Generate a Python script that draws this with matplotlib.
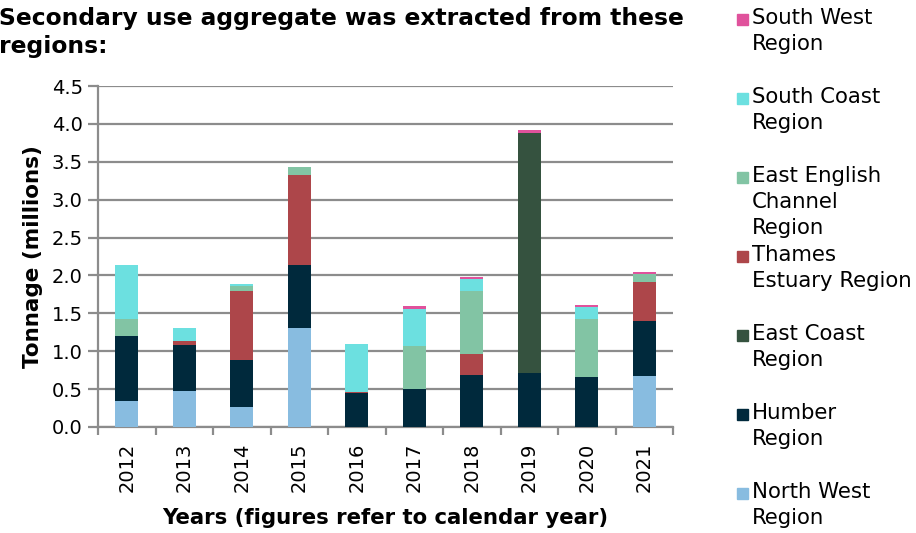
import matplotlib
matplotlib.use("Agg")
import matplotlib.pyplot as plt
import numpy as np
from matplotlib.patches import Rectangle

years = ["2012", "2013", "2014", "2015", "2016", "2017", "2018", "2019", "2020", "2021"]
north_west = [0.34, 0.48, 0.26, 1.31, 0.0, 0.0, 0.0, 0.0, 0.0, 0.67]
humber = [0.86, 0.60, 0.62, 0.83, 0.45, 0.50, 0.69, 0.71, 0.66, 0.73]
east_coast = [0.0, 0.0, 0.0, 0.0, 0.0, 0.0, 0.0, 3.17, 0.0, 0.0]
thames = [0.0, 0.05, 0.91, 1.18, 0.01, 0.0, 0.27, 0.0, 0.0, 0.515]
east_english = [0.22, 0.0, 0.07, 0.11, 0.0, 0.57, 0.83, 0.0, 0.77, 0.11]
south_coast = [0.72, 0.17, 0.03, 0.0, 0.64, 0.49, 0.16, 0.0, 0.15, 0.0]
south_west = [0.0, 0.0, 0.0, 0.0, 0.0, 0.04, 0.03, 0.035, 0.035, 0.025]

series = [
    ("North West\nRegion", north_west, "#88BCE0"),
    ("Humber\nRegion", humber, "#00293C"),
    ("East Coast\nRegion", east_coast, "#35523F"),
    ("Thames\nEstuary Region", thames, "#AD464A"),
    ("East English\nChannel\nRegion", east_english, "#82C4A4"),
    ("South Coast\nRegion", south_coast, "#6CE0E0"),
    ("South West\nRegion", south_west, "#E0529C"),
]

W, H = 916, 533
fig = plt.figure(figsize=(W / 100, H / 100), dpi=100)
ax = fig.add_axes([98 / W, 1 - 427 / H, (673 - 98) / W, (427 - 86) / H])

x = np.arange(len(years))
bottom = np.zeros(len(years))
for name, vals, col in series:
    v = np.array(vals)
    ax.bar(x, v, bottom=bottom, width=0.4, color=col, edgecolor="none", zorder=3)
    bottom += v

ax.set_xlim(-0.5, len(years) - 0.5)
ax.set_ylim(0, 4.5)
ax.set_yticks(np.arange(0, 4.51, 0.5))
ax.set_yticklabels([f"{t:.1f}" for t in np.arange(0, 4.51, 0.5)], fontsize=14)
ax.yaxis.grid(True, color="#8C8C8C", linewidth=1.6, zorder=0)
ax.set_axisbelow(True)
ax.set_xticks(x)
ax.set_xticklabels(years, rotation=90, fontsize=14)
ax.set_xticks(np.arange(-0.5, len(years), 1), minor=True)
ax.tick_params(axis="x", which="major", length=0, pad=11)
ax.tick_params(axis="x", which="minor", length=6, width=1.6, color="#8C8C8C")
ax.tick_params(axis="y", length=7, width=1.6, color="#8C8C8C", pad=4)
for s in ["top", "right"]:
    ax.spines[s].set_visible(False)
for s in ["left", "bottom"]:
    ax.spines[s].set_color("#8C8C8C")
    ax.spines[s].set_linewidth(1.6)

ax.set_ylabel("Tonnage (millions)", fontsize=15.5, fontweight="bold", labelpad=6)
ax.set_xlabel("Years (figures refer to calendar year)", fontsize=15.3, fontweight="bold", labelpad=12)

fig.text(-1 / W, 1 - 19 / H, "Secondary use aggregate was extracted from these",
         fontsize=16.8, fontweight="bold", ha="left", va="center")
fig.text(-1 / W, 1 - 47 / H, "regions:",
         fontsize=16.8, fontweight="bold", ha="left", va="center")

# Legend (top to bottom)
for i, (name, vals, col) in enumerate(reversed(series)):
    yc = 19 + 79 * i
    fig.patches.append(Rectangle((737 / W, 1 - (yc + 6) / H), 11 / W, 11 / H,
                                 transform=fig.transFigure, color=col))
    fig.text(752 / W, 1 - (yc - 11) / H, name, fontsize=15.3, ha="left", va="top",
             linespacing=1.36)

fig.savefig("out.png", dpi=100)
